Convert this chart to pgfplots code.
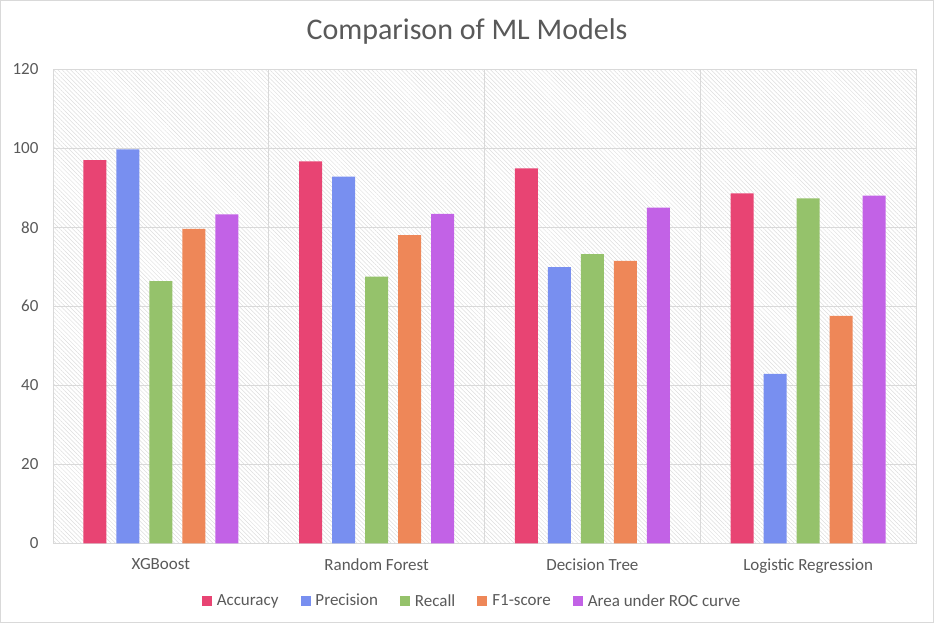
\documentclass[border=0pt]{standalone}
\usepackage{pgfplots}
\pgfplotsset{compat=1.18}
\usetikzlibrary{patterns.meta}
\usepackage{fontspec}
\setmainfont{Carlito}
\definecolor{cAcc}{HTML}{E84473}
\definecolor{cPre}{HTML}{788FF0}
\definecolor{cRec}{HTML}{95C26B}
\definecolor{cF1}{HTML}{EE8758}
\definecolor{cAuc}{HTML}{C262E6}
\definecolor{txt}{HTML}{595959}
\definecolor{gridc}{HTML}{D9D9D9}
\begin{document}
\begin{tikzpicture}
\path[use as bounding box] (0pt,0pt) rectangle (934pt,623pt);
\draw[gridc, line width=1pt] (0.5pt,0.5pt) rectangle (933.5pt,622.5pt);
\node[text=txt, font=\fontsize{30}{36}\selectfont] at (467pt,591pt) {Comparison of ML Models};
\begin{axis}[
  at={(53pt,79.7pt)}, anchor=south west,
  scale only axis, width=863pt, height=474pt,
  ymin=0, ymax=120, ytick={0,20,...,120},
  xmin=-0.5, xmax=3.5, xtick={0,1,2,3},
  xticklabels={XGBoost, Random Forest, Decision Tree, Logistic Regression},
  extra x ticks={0.5,1.5,2.5}, extra x tick labels={},
  extra x tick style={grid=major},
  ymajorgrids, major grid style={gridc, line width=1pt},
  major tick length=0pt,
  axis line style={gridc, line width=1pt},
  ybar=10pt, bar width=23pt,
  axis background/.style={pattern={Lines[angle=-45,distance=3pt,line width=0.5pt]}, pattern color=gray!27},
  /pgf/number format/assume math mode=true,
  ticklabel style={font=\fontsize{17}{20}\selectfont, text=txt},
  yticklabel style={xshift=-11pt},
  xticklabel style={yshift=-12pt},
  legend columns=-1,
  legend style={at={(0.4855,-0.1215)}, anchor=center, draw=none, fill=none,
    font=\fontsize{17}{20}\selectfont, text=txt,
    /tikz/every odd column/.append style={column sep=3pt},
    /tikz/every even column/.append style={column sep=20pt}},
  legend image code/.code={\draw[#1,draw=none] (0pt,-5pt) rectangle (10pt,5pt);},
]
\addplot[fill=cAcc, draw=none] coordinates {(0,97.0) (1,96.7) (2,94.9) (3,88.6)};
\addplot[fill=cPre, draw=none] coordinates {(0,99.7) (1,92.8) (2,69.9) (3,42.9)};
\addplot[fill=cRec, draw=none] coordinates {(0,66.4) (1,67.5) (2,73.2) (3,87.3)};
\addplot[fill=cF1, draw=none] coordinates {(0,79.6) (1,78.0) (2,71.5) (3,57.6)};
\addplot[fill=cAuc, draw=none] coordinates {(0,83.3) (1,83.4) (2,85.0) (3,88.0)};
\legend{Accuracy, Precision, Recall, F1-score, Area under ROC curve}
\end{axis}
\end{tikzpicture}
\end{document}
